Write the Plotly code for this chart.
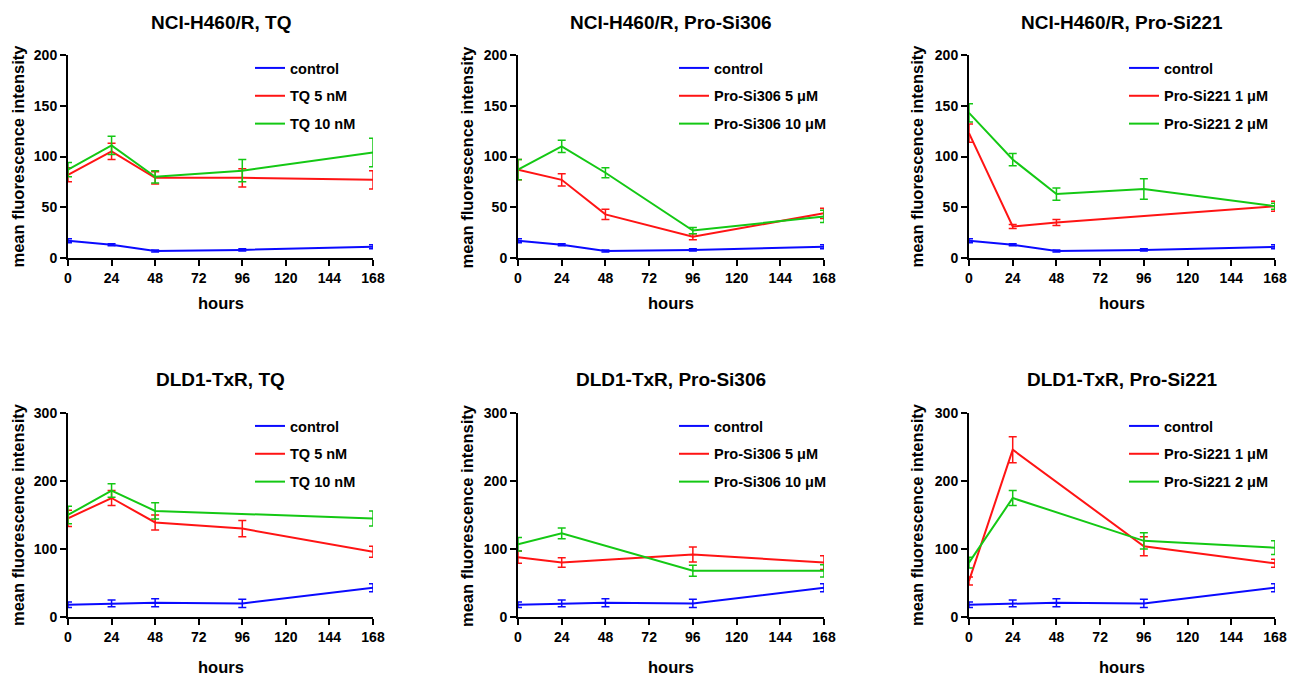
import plotly.graph_objects as go

hours = [0, 24, 48, 96, 168]
xticks = [0, 24, 48, 72, 96, 120, 144, 168]

titles = ["NCI-H460/R, TQ", "NCI-H460/R, Pro-Si306", "NCI-H460/R, Pro-Si221",
          "DLD1-TxR, TQ", "DLD1-TxR, Pro-Si306", "DLD1-TxR, Pro-Si221"]

names_red = ["TQ 5 nM", "Pro-Si306 5 μM", "Pro-Si221 1 μM",
             "TQ 5 nM", "Pro-Si306 5 μM", "Pro-Si221 1 μM"]
names_green = ["TQ 10 nM", "Pro-Si306 10 μM", "Pro-Si221 2 μM",
               "TQ 10 nM", "Pro-Si306 10 μM", "Pro-Si221 2 μM"]

# control series (row 1: NCI-H460/R, row 2: DLD1-TxR)
ctrl_h460 = [17, 13, 7, 8, 11]
ctrl_h460_err = [2, 1, 1, 1, 2]
ctrl_dld1 = [18, 20, 21, 20, 43]
ctrl_dld1_err = [4, 5, 6, 6, 6]

# NCI-H460/R
h460_tq5 = [82, 105, 79, 79, 77]
h460_tq5_err = [7, 8, 6, 9, 9]
h460_tq10 = [87, 111, 80, 86, 104]
h460_tq10_err = [7, 9, 6, 11, 14]
h460_si306_5 = [87, 77, 43, 21, 44]
h460_si306_5_err = [10, 6, 5, 3, 5]
h460_si306_10 = [87, 110, 84, 27, 41]
h460_si306_10_err = [10, 6, 5, 3, 6]
h460_si221_1 = [123, 31, 35, None, 51]
h460_si221_1_err = [9, 2, 3, None, 5]
h460_si221_2 = [143, 97, 63, 68, 51]
h460_si221_2_err = [9, 6, 6, 10, 3]

# DLD1-TxR
dld1_tq5 = [145, 175, 139, 130, 96]
dld1_tq5_err = [12, 11, 11, 12, 8]
dld1_tq10 = [150, 186, 156, None, 145]
dld1_tq10_err = [13, 10, 12, None, 11]
dld1_si306_5 = [88, 80, None, 92, 80]
dld1_si306_5_err = [9, 7, None, 11, 10]
dld1_si306_10 = [107, 123, None, 68, 68]
dld1_si306_10_err = [10, 8, None, 8, 9]
dld1_si221_1 = [53, 246, None, 104, 79]
dld1_si221_1_err = [6, 19, None, 14, 6]
dld1_si221_2 = [80, 175, None, 112, 102]
dld1_si221_2_err = [8, 11, None, 12, 10]

panels = [
    (ctrl_h460, ctrl_h460_err, h460_tq5, h460_tq5_err, h460_tq10, h460_tq10_err),
    (ctrl_h460, ctrl_h460_err, h460_si306_5, h460_si306_5_err, h460_si306_10, h460_si306_10_err),
    (ctrl_h460, ctrl_h460_err, h460_si221_1, h460_si221_1_err, h460_si221_2, h460_si221_2_err),
    (ctrl_dld1, ctrl_dld1_err, dld1_tq5, dld1_tq5_err, dld1_tq10, dld1_tq10_err),
    (ctrl_dld1, ctrl_dld1_err, dld1_si306_5, dld1_si306_5_err, dld1_si306_10, dld1_si306_10_err),
    (ctrl_dld1, ctrl_dld1_err, dld1_si221_1, dld1_si221_1_err, dld1_si221_2, dld1_si221_2_err),
]

W, H = 1298, 677
BLUE, RED, GREEN = "#0a0aff", "#ff1414", "#14c814"
FONT = "Liberation Sans, Arial, sans-serif"

# pixel layout of plot areas: (x0, x1) and (ytop, ybottom)
xpix = [(68, 373), (518, 824), (969, 1275)]
ypix = [(55, 258), (413, 617)]
ytitle_x = [18, 467, 917]
legend_off = [182, 156, 155]

fig = go.Figure()
annotations = []
layout_axes = {}
legends = {}

for i, (c, ce, r, re, g, ge) in enumerate(panels):
    row, col = divmod(i, 3)
    k = "" if i == 0 else str(i + 1)
    xa, ya = "x" + k, "y" + k
    lg = "legend" + k
    for name, vals, errs, color in [("control", c, ce, BLUE),
                                   (names_red[i], r, re, RED),
                                   (names_green[i], g, ge, GREEN)]:
        fig.add_trace(go.Scatter(
            x=hours, y=vals, mode="lines", name=name,
            line=dict(color=color, width=2),
            error_y=dict(type="data", array=errs, visible=True, color=color,
                         thickness=1.5, width=4),
            connectgaps=True, cliponaxis=False,
            xaxis=xa, yaxis=ya, legend=lg, legendgroup=f"{i}-{name}",
        ))
    x0, x1 = xpix[col]
    yt, yb = ypix[row]
    ymax = 200 if row == 0 else 300
    dt = 50 if row == 0 else 100
    layout_axes["xaxis" + k] = dict(
        domain=[x0 / W, x1 / W], anchor=ya, range=[0, 168], tickvals=xticks,
        showline=True, linecolor="black", linewidth=2, ticks="outside",
        ticklen=6, tickwidth=2, tickcolor="black", showgrid=False, zeroline=False,
        tickfont=dict(family=FONT, size=14, color="black", weight="bold"),
    )
    layout_axes["yaxis" + k] = dict(
        domain=[1 - yb / H, 1 - yt / H], anchor=xa, range=[0, ymax], dtick=dt,
        showline=True, linecolor="black", linewidth=2, ticks="outside",
        ticklen=6, tickwidth=2, tickcolor="black", showgrid=False, zeroline=False,
        tickfont=dict(family=FONT, size=14, color="black", weight="bold"),
    )
    legends[lg] = dict(
        x=(x0 + legend_off[col]) / W, y=1 - (yt - 3) / H, xanchor="left", yanchor="top",
        bgcolor="rgba(0,0,0,0)", tracegroupgap=6, itemwidth=30,
        font=dict(family=FONT, size=14.5, color="black", weight="bold"),
    )
    # panel title
    annotations.append(dict(
        text=titles[i], x=((x0 + x1) / 2) / W, y=1 - (yt - 33) / H,
        xref="paper", yref="paper",
        showarrow=False, xanchor="center", yanchor="middle",
        font=dict(family=FONT, size=19, color="black", weight="bold"),
    ))
    # y title
    annotations.append(dict(
        text="mean fluorescence intensity", x=ytitle_x[col] / W, y=1 - ((yt + yb) / 2) / H,
        xref="paper", yref="paper", showarrow=False, textangle=-90,
        xanchor="center", yanchor="middle",
        font=dict(family=FONT, size=16.5, color="black", weight="bold"),
    ))
    # x title
    annotations.append(dict(
        text="hours", x=((x0 + x1) / 2) / W, y=1 - (yb + 45 + (5 if row else 0)) / H,
        xref="paper", yref="paper", showarrow=False, xanchor="center", yanchor="middle",
        font=dict(family=FONT, size=16.5, color="black", weight="bold"),
    ))

fig.update_layout(
    width=W, height=H, margin=dict(l=0, r=0, t=0, b=0, autoexpand=False),
    paper_bgcolor="white", plot_bgcolor="white",
    showlegend=True, annotations=annotations,
    **layout_axes, **legends,
)
fig.write_html("out.html", config={"displayModeBar": False},
               post_script="document.body.style.margin='0px';")
